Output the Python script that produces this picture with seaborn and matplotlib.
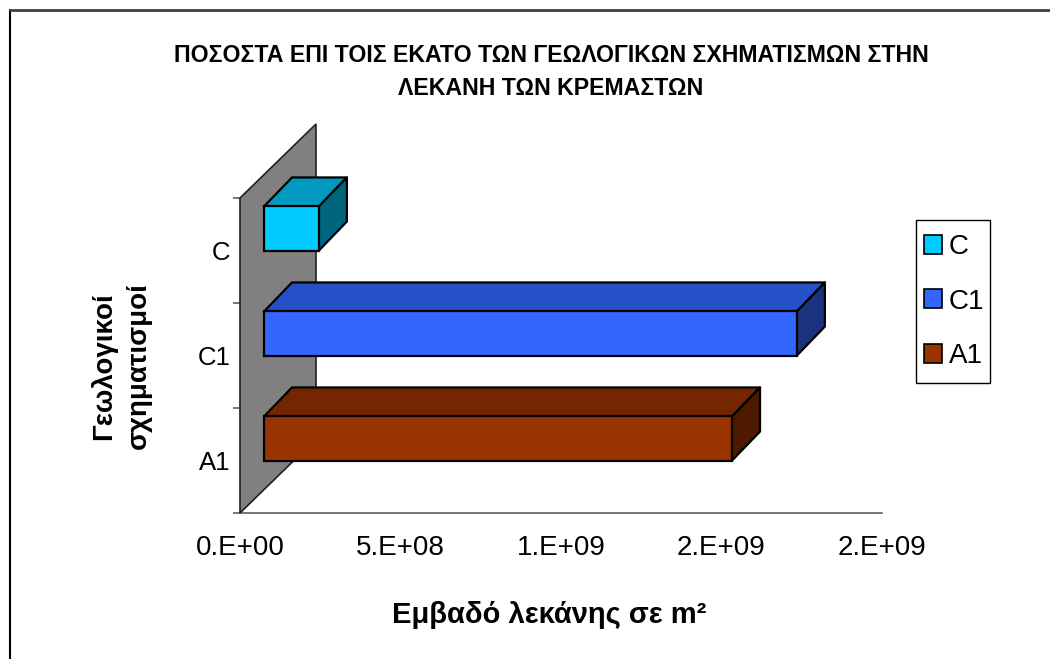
import matplotlib
matplotlib.use("Agg")
import matplotlib.pyplot as plt
from matplotlib.patches import Polygon, Patch, Rectangle
from matplotlib.lines import Line2D
from matplotlib.transforms import ScaledTranslation, IdentityTransform
import seaborn as sns
import pandas as pd

# Geological formations and basin area (m^2)
formations = ["C", "C1", "A1"]
areas_m2 = [1.71e8, 1.66e9, 1.458e9]

front_colors = ["#00CCFF", "#3366FF", "#993300"]
top_colors = ["#0099C0", "#2650C8", "#732600"]
side_colors = ["#006680", "#1A3380", "#4D1A00"]

tick_values = [0, 5e8, 1e9, 1.5e9, 2e9]
tick_labels = ["0.E+00", "5.E+08", "1.E+09", "2.E+09", "2.E+09"]

title = "ΠΟΣΟΣΤΑ ΕΠΙ ΤΟΙΣ ΕΚΑΤΟ ΤΩΝ ΓΕΩΛΟΓΙΚΩΝ ΣΧΗΜΑΤΙΣΜΩΝ ΣΤΗΝ\nΛΕΚΑΝΗ ΤΩΝ ΚΡΕΜΑΣΤΩΝ"
xlabel = "Εμβαδό λεκάνης σε m²"
ylabel = "Γεωλογικοί\nσχηματισμοί"

sns.set_style("white")
plt.rcParams["font.family"] = ["Liberation Sans", "DejaVu Sans"]
plt.rcParams["text.color"] = "black"
plt.rcParams["xtick.color"] = "black"
plt.rcParams["ytick.color"] = "black"
narrow = ["Liberation Sans Narrow", "Liberation Sans", "DejaVu Sans"]

W, H, DPI = 1050, 659, 100
fig = plt.figure(figsize=(W / DPI, H / DPI), dpi=DPI)
fig.patch.set_facecolor("white")

# axes box = front plane of the 3D plot
ax = fig.add_axes([240 / W, 1 - 513 / H, (882 - 240) / W, (513 - 198) / H])
ax.set_facecolor("none")

df = pd.DataFrame({"formation": formations, "area": areas_m2})
sns.barplot(data=df, x="area", y="formation", hue="formation",
            palette=front_colors, saturation=1, orient="h", width=0.42,
            edgecolor="black", linewidth=1.6, legend=False, ax=ax, zorder=5)

ax.set_xlim(0, 2e9)
ax.set_ylim(2.5, -0.5)

# depth offsets in pixels (display coordinates)
front_dx, front_dy = 24, 22
bar_dx, bar_dy = 28, 29
wall_dx, wall_dy = 76, 74

to_disp = ax.transData.transform

# back wall
p_top = to_disp((0, -0.5))
p_bot = to_disp((0, 2.5))
wall = Polygon([p_top, (p_top[0] + wall_dx, p_top[1] + wall_dy),
                (p_bot[0] + wall_dx, p_bot[1] + wall_dy), p_bot],
               closed=True, facecolor="#808080", edgecolor="#202020",
               linewidth=1.2, transform=IdentityTransform(), zorder=1)
ax.add_artist(wall)
wall.set_clip_on(False)

shift = ScaledTranslation(front_dx / DPI, front_dy / DPI, fig.dpi_scale_trans)
for patch, tc, sc in zip(ax.patches, top_colors, side_colors):
    bb = patch.get_bbox()
    (x0, y0), (x1, y1) = to_disp((bb.x0, bb.y0)), to_disp((bb.x1, bb.y1))
    xl, xr = min(x0, x1) + front_dx, max(x0, x1) + front_dx
    yb, yt = min(y0, y1) + front_dy, max(y0, y1) + front_dy
    top = Polygon([(xl, yt), (xr, yt), (xr + bar_dx, yt + bar_dy),
                   (xl + bar_dx, yt + bar_dy)], closed=True, facecolor=tc,
                  edgecolor="black", linewidth=1.6, joinstyle="round",
                  transform=IdentityTransform(), zorder=4)
    side = Polygon([(xr, yb), (xr, yt), (xr + bar_dx, yt + bar_dy),
                    (xr + bar_dx, yb + bar_dy)], closed=True, facecolor=sc,
                   edgecolor="black", linewidth=1.6, joinstyle="round",
                   transform=IdentityTransform(), zorder=4)
    for poly in (top, side):
        ax.add_artist(poly)
        poly.set_clip_on(False)
    patch.set_transform(ax.transData + shift)
    patch.set_clip_on(False)

# axes styling
for s in ("top", "right", "left"):
    ax.spines[s].set_visible(False)
ax.spines["bottom"].set_color("#606060")
ax.spines["bottom"].set_linewidth(1.2)
ax.spines["bottom"].set_zorder(0.5)

ax.set_xticks(tick_values, tick_labels)
ax.tick_params(axis="x", direction="out", length=5, width=1.2, color="#606060",
               pad=11, labelsize=20)
ax.set_yticks(range(len(formations)), formations)
ax.set_yticks([-0.5, 0.5, 1.5, 2.5], minor=True)
ax.tick_params(axis="y", which="major", length=0, pad=7, labelsize=18.5)
ax.tick_params(axis="y", which="minor", direction="out", length=5, width=1.2,
               color="#606060", left=True)
for lbl in ax.get_xticklabels():
    lbl.set_family(narrow)
ax.set_xlabel("")
ax.set_ylabel("")

fig.text(551 / W, 1 - 72 / H, title, ha="center", va="center", fontsize=16.7,
         fontweight="bold", family=narrow, linespacing=1.55)
fig.text(549 / W, 1 - 615 / H, xlabel, ha="center", va="center",
         fontsize=21, fontweight="bold")
fig.text(121 / W, 1 - 366 / H, ylabel, ha="center", va="center",
         fontsize=20, fontweight="bold", rotation=90, linespacing=1.42)

# legend: frame drawn as a separate box, entries centred inside it
lx0, ly0, lx1, ly1 = 916, 220, 990, 383
fig.add_artist(Rectangle((lx0 / W, 1 - ly1 / H), (lx1 - lx0) / W, (ly1 - ly0) / H,
                         transform=fig.transFigure, facecolor="white",
                         edgecolor="black", linewidth=1.0, zorder=3))
handles = [Patch(facecolor=c, edgecolor="black", linewidth=1.2) for c in front_colors]
leg = fig.legend(handles, formations, loc="center",
                 bbox_to_anchor=((lx0 + lx1) / 2 / W + 0.001, 1 - (ly0 + ly1) / 2 / H),
                 fontsize=20, frameon=False, handlelength=0.66,
                 handleheight=0.66, handletextpad=0.25, labelspacing=1.03,
                 borderpad=0, borderaxespad=0)
leg.set_zorder(4)

# chart-area border
fig.add_artist(Line2D([9.5 / W, 9.5 / W], [0, 1 - 9.5 / H], color="black",
                      linewidth=1.5, transform=fig.transFigure))
fig.add_artist(Line2D([9.5 / W, 1], [1 - 9.5 / H, 1 - 9.5 / H], color="#404040",
                      linewidth=2, transform=fig.transFigure))

fig.savefig("out.png", dpi=DPI, facecolor="white")
